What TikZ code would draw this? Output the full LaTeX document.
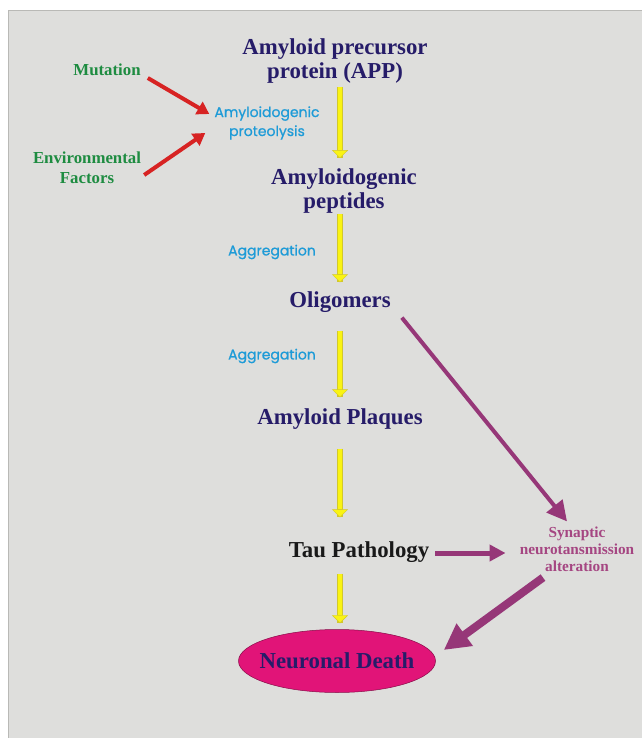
\documentclass[tikz,border=0pt]{standalone}
\usepackage{fontspec}
\setmainfont{Liberation Serif}
\newfontfamily\gothic[FakeBold=0.9]{Poppins}
\usetikzlibrary{arrows.meta,calc,shapes.geometric}
\definecolor{bg}{RGB}{222,222,220}
\definecolor{edge}{RGB}{185,185,182}
\definecolor{navy}{RGB}{38,28,105}
\definecolor{grn}{RGB}{30,140,65}
\definecolor{sky}{RGB}{30,155,215}
\definecolor{redarr}{RGB}{215,35,35}
\definecolor{ylw}{RGB}{250,244,20}
\definecolor{ylwdark}{RGB}{210,200,45}
\definecolor{purp}{RGB}{150,55,120}
\definecolor{mauve}{RGB}{165,70,130}
\definecolor{mag}{RGB}{225,20,120}
\tikzset{
  main/.style={font=\fontsize{22.8}{24.5}\selectfont\bfseries, text=navy, align=center, inner sep=0pt},
  cause/.style={font=\fontsize{16.8}{20}\selectfont\bfseries, text=grn, align=center, inner sep=0pt},
  proc/.style={font=\gothic\fontsize{14}{19}\selectfont, text=sky, align=center, inner sep=0pt},
  synbox/.style={font=\fontsize{15.3}{17}\selectfont\bfseries, text=mauve, align=center, inner sep=0pt},
  yarrow/.style={draw=ylw, line width=4.6pt,
    preaction={draw=ylwdark, line width=5.4pt, -},
    -{Triangle[length=8pt,width=16pt,color=ylwdark,fill=ylw,line width=0.4pt]}},
  rarrow/.style={draw=redarr, line width=4pt, -{Triangle[length=12pt,width=14pt]}},
  parrow/.style={draw=purp, -{Triangle[length=#1pt,width=#1pt]}},
}
\begin{document}
\begin{tikzpicture}[x=1pt,y=-1pt]
\useasboundingbox (0,0) rectangle (642,738);
\fill[bg] (8.5,11) rectangle (642,738);
\draw[edge, line width=1pt] (8.5,738) -- (8.5,11) -- (642,11);

\node[main] (app) at (335,61) {Amyloid precursor\\protein (APP)};
\node[main] (pep) at (344,191) {Amyloidogenic\\peptides};
\node[main] (olig) at (340,302) {Oligomers};
\node[main] (plq) at (340,419) {Amyloid Plaques};
\node[main, text=black!90] (tau) at (359,552) {Tau Pathology};
\node[ellipse, fill=mag, draw=mag!60!black, line width=0.5pt, minimum width=197pt, minimum height=63pt,
      inner xsep=-30pt, inner ysep=0pt,
      font=\fontsize{22.8}{24}\selectfont\bfseries, text=navy] (death) at (337,661) {Neuronal Death};

\node[cause] (mut) at (107,70) {Mutation};
\node[cause] (env) at (87,168) {Environmental\\Factors};
\node[proc] (prot) at (267,123) {Amyloidogenic\\proteolysis};
\node[proc] (agg1) at (272,252) {Aggregation};
\node[proc] (agg2) at (272,356) {Aggregation};
\node[synbox] (syn) at (577,549) {Synaptic\\neurotansmission\\alteration};

\draw[yarrow, shorten <=3pt, shorten >=10pt] (app.south -| olig) -- (pep.north -| olig);
\draw[yarrow, shorten <=0pt, shorten >=9pt] (pep.south -| olig) -- (olig.north);
\draw[yarrow, shorten <=18pt, shorten >=11pt] (olig.south) -- (plq.north);
\draw[yarrow, shorten <=19pt, shorten >=24pt] (plq.south) -- (tau.north -| plq);
\draw[yarrow, shorten <=11pt, shorten >=6pt] (tau.south -| plq) -- (death.north -| plq);

\draw[rarrow] ($(mut.east)+(7,8)$) -- ($(prot.west)+(-5,-9)$);
\draw[rarrow] ($(env.east)+(3,7)$) -- ($(prot.west)+(-9,10)$);

\draw[parrow=20, line width=4pt] ($(olig.south east)+(11,5)$) -- ($(syn.north)+(-10,-5)$);
\draw[parrow=16, line width=5pt] ($(tau.east)+(6,1)$) -- ($(tau.east -| syn.west)+(-14,1)$);
\draw[parrow=26, line width=8pt] ($(syn.south)+(-34,6)$) -- ($(death.east)+(8,-11)$);
\end{tikzpicture}
\end{document}
